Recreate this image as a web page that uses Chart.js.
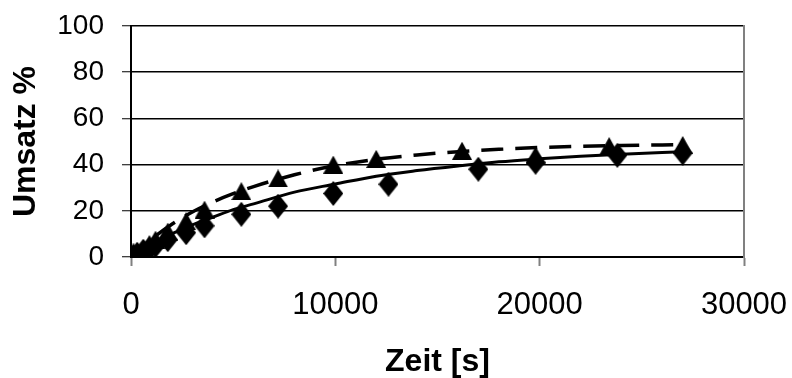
<!DOCTYPE html>
<html>
<head>
<meta charset="utf-8">
<script src="https://cdn.jsdelivr.net/npm/chart.js@4/dist/chart.umd.min.js"></script>
<style>
  html, body { margin: 0; padding: 0; background: #ffffff; }
  #c { display: block; }
</style>
</head>
<body>
<canvas id="c" width="792" height="378"></canvas>
<script>
// Measured conversion (Umsatz %) over time (s) for two runs
const timeA = [0, 120, 300, 600, 900, 1200, 1800, 2700, 3600, 5400, 7200, 9900, 12600, 17000, 19800, 23800, 27000];
const convA = [0, 0.5, 1.2, 2.5, 3.5, 5, 7.5, 10.5, 13.5, 18.5, 22, 27.5, 31.5, 38, 41, 44, 45];

const timeB = [0, 120, 300, 600, 900, 1200, 1800, 2700, 3600, 5400, 7200, 9900, 12000, 16200, 19800, 23400, 27000];
const convB = [0, 0.8, 2, 3.5, 5.5, 7.5, 11, 15.5, 20.5, 28.5, 34, 40, 42.5, 46, 44, 48, 48.5];

// Fitted trend curves read along their paths
const fitTime = [0, 1000, 2000, 3000, 4000, 5000, 6000, 8000, 10000, 12000, 14000, 16000, 18000, 20000, 22000, 24000, 27000];
const fitA = [0, 5.1, 10.0, 13.9, 17.2, 20.5, 23.0, 28.1, 31.6, 35.0, 37.4, 39.4, 41.2, 42.5, 43.6, 44.5, 45.6];
const fitB = [0, 7.7, 14.2, 19.5, 23.8, 27.4, 30.5, 35.6, 39.6, 42.3, 44.2, 45.6, 46.6, 47.4, 47.9, 48.3, 48.6];

const xTicks = [0, 10000, 20000, 30000];
const yTicks = [0, 20, 40, 60, 80, 100];

const toPoints = (xs, ys) => xs.map((x, i) => ({ x: x, y: ys[i] }));

// Marker glyphs: a tall diamond and a filled triangle
function makeDiamond(w, h) {
  const cv = document.createElement('canvas');
  cv.width = w; cv.height = h;
  const g = cv.getContext('2d');
  g.fillStyle = '#000000';
  g.beginPath();
  g.moveTo(w / 2, 0);
  g.lineTo(w, h / 2);
  g.lineTo(w / 2, h);
  g.lineTo(0, h / 2);
  g.closePath();
  g.fill();
  return cv;
}
function makeTriangle(w, h) {
  const cv = document.createElement('canvas');
  cv.width = w; cv.height = h;
  const g = cv.getContext('2d');
  g.fillStyle = '#000000';
  g.beginPath();
  g.moveTo(w / 2, 0);
  g.lineTo(w, h);
  g.lineTo(0, h);
  g.closePath();
  g.fill();
  return cv;
}
const diamond = makeDiamond(20, 25);
const triangle = makeTriangle(20, 18);

const tickFontX = { family: 'Liberation Sans, Arial, sans-serif', size: 31 };
const tickFontY = { family: 'Liberation Sans, Arial, sans-serif', size: 28 };
const titleFont = { family: 'Liberation Sans, Arial, sans-serif', size: 32, weight: 'bold', lineHeight: 1.0 };

// Fixed axis sizes without extra label overhang padding
const fixSize = (w, h) => (s) => {
  if (w !== null) s.width = w;
  if (h !== null) s.height = h;
  s.paddingTop = 0; s.paddingBottom = 0; s.paddingLeft = 0; s.paddingRight = 0;
};

new Chart(document.getElementById('c'), {
  type: 'scatter',
  data: {
    datasets: [
      {
        label: 'Fit A',
        data: toPoints(fitTime, fitA),
        showLine: true,
        borderColor: '#000000',
        borderWidth: 3,
        pointRadius: 0,
        cubicInterpolationMode: 'monotone',
        order: 1
      },
      {
        label: 'Fit B',
        data: toPoints(fitTime, fitB),
        showLine: true,
        borderColor: '#000000',
        borderWidth: 3.5,
        borderDash: [22, 12],
        pointRadius: 0,
        cubicInterpolationMode: 'monotone',
        order: 1
      },
      {
        label: 'A',
        data: toPoints(timeA, convA),
        pointStyle: diamond,
        pointRadius: 10,
        order: 2
      },
      {
        label: 'B',
        data: toPoints(timeB, convB),
        pointStyle: triangle,
        pointRadius: 10,
        order: 2
      }
    ]
  },
  options: {
    responsive: false,
    devicePixelRatio: 1,
    animation: false,
    layout: { autoPadding: false, padding: { left: 10, right: 48, top: 26, bottom: 0 } },
    plugins: {
      legend: { display: false },
      tooltip: { enabled: false }
    },
    scales: {
      x: {
        type: 'linear',
        min: 0,
        max: 30000,
        afterBuildTicks: (s) => { s.ticks = xTicks.map(v => ({ value: v })); },
        afterFit: fixSize(null, 121),
        ticks: {
          color: '#000000',
          font: tickFontX,
          padding: 21,
          maxRotation: 0,
          autoSkip: false,
          callback: (v) => String(v)
        },
        grid: {
          drawOnChartArea: false,
          drawTicks: true,
          tickLength: 9,
          tickColor: '#808080',
          tickWidth: 2
        },
        border: { display: true, color: '#000000', width: 2 },
        title: {
          display: true,
          text: 'Zeit [s]',
          color: '#000000',
          font: titleFont,
          padding: 0
        }
      },
      y: {
        type: 'linear',
        min: 0,
        max: 100,
        afterBuildTicks: (s) => { s.ticks = yTicks.map(v => ({ value: v })); },
        afterFit: fixSize(121, null),
        ticks: {
          color: '#000000',
          font: tickFontY,
          padding: 18,
          autoSkip: false,
          callback: (v) => String(v)
        },
        grid: {
          color: '#000000',
          lineWidth: 1.5,
          drawTicks: true,
          tickLength: 9,
          tickColor: '#000000',
          tickWidth: 1
        },
        border: { display: true, color: '#000000', width: 2 },
        title: {
          display: true,
          text: 'Umsatz %',
          color: '#000000',
          font: titleFont,
          padding: 0
        }
      },
      yRight: {
        type: 'linear',
        position: 'right',
        min: 0,
        max: 100,
        afterFit: fixSize(0, null),
        ticks: { display: false },
        grid: { display: false, drawTicks: false },
        border: { display: true, color: '#808080', width: 2 }
      }
    }
  }
});
</script>
</body>
</html>
